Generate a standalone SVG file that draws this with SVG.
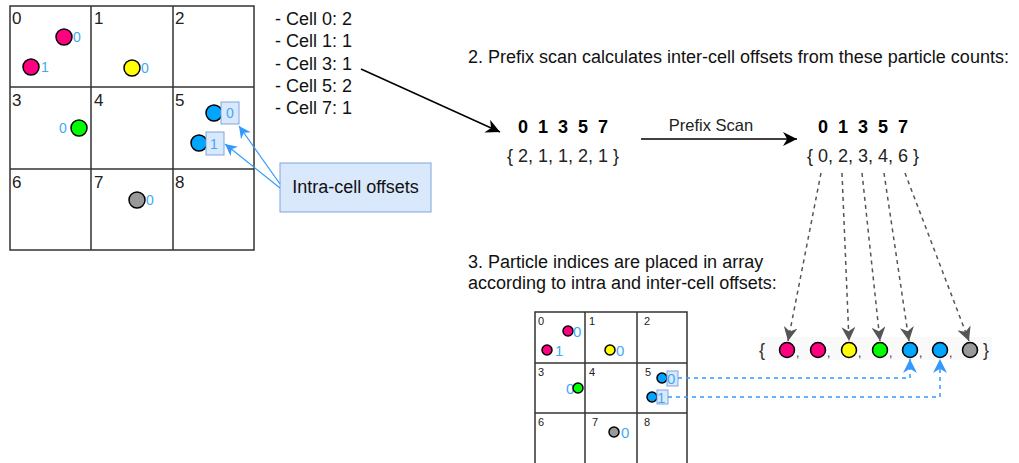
<svg xmlns="http://www.w3.org/2000/svg" width="1019" height="463" viewBox="0 0 1019 463">
<defs>
<style>
text{font-family:"Liberation Sans",Arial,sans-serif}
.grid{fill:none;stroke:#333;stroke-width:1.5}
.lbl{font-size:17px;fill:#222}
.slbl{font-size:11px;fill:#222}
.off{font-size:14px;fill:#3fa9f5}
.soff{font-size:15px;fill:#3fa9f5}
.p{stroke:#000;stroke-width:1.5}
.pk{fill:#ff0080}.yl{fill:#ffff00}.gn{fill:#00ff00}.bl{fill:#00a5ff}.gy{fill:#999}
.ob{fill:#dae8fc;stroke:#7ea6e0;stroke-width:1}
.txt{font-size:18px;fill:#111}
.num{font-size:18px;font-weight:bold;fill:#000}
.br{font-size:18px;fill:#222}
.cm{font-size:12px;fill:#333}
.gd{fill:none;stroke:#555;stroke-width:1.5;stroke-dasharray:4 4;marker-end:url(#ga)}
.bd{fill:none;stroke:#3399ff;stroke-width:1.5;stroke-dasharray:4 4;marker-end:url(#ba)}
.ba{fill:none;stroke:#3399ff;stroke-width:1.2;marker-end:url(#ba2)}
</style>
<marker id="ga" markerUnits="userSpaceOnUse" markerWidth="14" markerHeight="14" refX="10" refY="5" orient="auto" viewBox="0 0 10 10"><path d="M0,0 L10,5 L0,10 L3,5 z" fill="#555"/></marker>
<marker id="ba" markerUnits="userSpaceOnUse" markerWidth="14" markerHeight="14" refX="10" refY="5" orient="auto" viewBox="0 0 10 10"><path d="M0,0 L10,5 L0,10 L3,5 z" fill="#3399ff"/></marker>
<marker id="ba2" markerUnits="userSpaceOnUse" markerWidth="12" markerHeight="12" refX="10" refY="5" orient="auto" viewBox="0 0 10 10"><path d="M0,0 L10,5 L0,10 L3,5 z" fill="#3399ff"/></marker>
<marker id="ka" markerUnits="userSpaceOnUse" markerWidth="14" markerHeight="14" refX="10" refY="5" orient="auto" viewBox="0 0 10 10"><path d="M0,0 L10,5 L0,10 L3,5 z" fill="#000"/></marker>
</defs>

<g id="big-grid">
<rect class="grid" x="10" y="6" width="244" height="244"/>
<line class="grid" x1="91" y1="6" x2="91" y2="250"/>
<line class="grid" x1="173" y1="6" x2="173" y2="250"/>
<line class="grid" x1="10" y1="87" x2="254" y2="87"/>
<line class="grid" x1="10" y1="169" x2="254" y2="169"/>
<text class="lbl" x="12" y="24">0</text>
<text class="lbl" x="94" y="24">1</text>
<text class="lbl" x="175" y="24">2</text>
<text class="lbl" x="12" y="106">3</text>
<text class="lbl" x="94" y="106">4</text>
<text class="lbl" x="175" y="106">5</text>
<text class="lbl" x="12" y="188">6</text>
<text class="lbl" x="94" y="188">7</text>
<text class="lbl" x="175" y="188">8</text>
<circle class="p pk" cx="64" cy="37" r="8"/><text class="off" x="73" y="42">0</text>
<circle class="p pk" cx="31" cy="67" r="8"/><text class="off" x="41" y="72">1</text>
<circle class="p yl" cx="132" cy="68" r="8"/><text class="off" x="141" y="73">0</text>
<circle class="p gn" cx="79" cy="128" r="8"/><text class="off" x="59" y="133">0</text>
<circle class="p bl" cx="214" cy="113" r="8"/>
<rect class="ob" x="221" y="102" width="18" height="22"/><text class="off" x="226" y="118">0</text>
<circle class="p bl" cx="199" cy="143" r="8"/>
<rect class="ob" x="206" y="132" width="18" height="23"/><text class="off" x="210" y="149">1</text>
<circle class="p gy" cx="137" cy="200" r="8"/><text class="off" x="146" y="205">0</text>
</g>

<g id="intra-label">
<rect x="280" y="163" width="151" height="49" fill="#dae8fc" stroke="#7ea6e0"/>
<text class="txt" x="355.5" y="193" text-anchor="middle">Intra-cell offsets</text>
</g>

<g id="counts">
<text class="txt" x="275" y="25">- Cell 0: 2</text>
<text class="txt" x="275" y="47">- Cell 1: 1</text>
<text class="txt" x="275" y="70">- Cell 3: 1</text>
<text class="txt" x="275" y="92">- Cell 5: 2</text>
<text class="txt" x="275" y="114">- Cell 7: 1</text>
</g>

<g id="step2">
<text class="txt" x="468" y="63">2. Prefix scan calculates inter-cell offsets from these particle counts:</text>
</g>

<g id="counts-array">
<text class="num" x="563" y="133" text-anchor="middle" xml:space="preserve">0  1  3  5  7</text>
<text class="br" x="563" y="162" text-anchor="middle">{ 2, 1, 1, 2, 1 }</text>
</g>

<g id="offsets-array">
<text class="num" x="863" y="133" text-anchor="middle" xml:space="preserve">0  1  3  5  7</text>
<text class="br" x="863" y="162" text-anchor="middle">{ 0, 2, 3, 4, 6 }</text>
</g>

<g id="scan-label">
<text x="711" y="131" text-anchor="middle" style="font-size:16.5px;fill:#222">Prefix Scan</text>
</g>

<g id="step3">
<text class="txt" x="468" y="268">3. Particle indices are placed in array</text>
<text class="txt" x="468" y="289">according to intra and inter-cell offsets:</text>
</g>

<g id="small-grid">
<rect class="grid" x="535" y="312" width="152" height="160"/>
<line class="grid" x1="585" y1="312" x2="585" y2="463"/>
<line class="grid" x1="637" y1="312" x2="637" y2="463"/>
<line class="grid" x1="535" y1="363" x2="687" y2="363"/>
<line class="grid" x1="535" y1="413" x2="687" y2="413"/>
<text class="slbl" x="538" y="325">0</text>
<text class="slbl" x="589" y="325">1</text>
<text class="slbl" x="644" y="325">2</text>
<text class="slbl" x="538" y="376">3</text>
<text class="slbl" x="589" y="376">4</text>
<text class="slbl" x="645" y="376">5</text>
<text class="slbl" x="538" y="426">6</text>
<text class="slbl" x="592" y="426">7</text>
<text class="slbl" x="644" y="426">8</text>
<circle class="p pk" cx="568" cy="331" r="5"/><text class="soff" x="573" y="337">0</text>
<circle class="p pk" cx="547" cy="350" r="5"/><text class="soff" x="555" y="356">1</text>
<circle class="p yl" cx="610" cy="350" r="5"/><text class="soff" x="616" y="356">0</text>
<text class="soff" x="566" y="394">0</text><circle class="p gn" cx="578" cy="388" r="5"/>
<circle class="p bl" cx="662" cy="378" r="5"/>
<rect class="ob" x="667" y="371" width="11" height="15"/><text class="soff" x="667" y="384">0</text>
<circle class="p bl" cx="652" cy="397" r="5"/>
<rect class="ob" x="657" y="390" width="11" height="14"/><text class="soff" x="657" y="403">1</text>
<circle class="p gy" cx="614" cy="432" r="5"/><text class="soff" x="621" y="438">0</text>
</g>

<g id="result-array">
<rect x="760" y="337" width="232" height="23" fill="#f9f9f9"/>
<text x="759" y="356" style="font-size:18px;fill:#333">{</text>
<text x="983" y="356" style="font-size:18px;fill:#333">}</text>
<circle class="p pk" cx="787" cy="350" r="7.5"/><text class="cm" x="796" y="357">,</text>
<circle class="p pk" cx="818" cy="350" r="7.5"/><text class="cm" x="827" y="357">,</text>
<circle class="p yl" cx="849" cy="350" r="7.5"/><text class="cm" x="858" y="357">,</text>
<circle class="p gn" cx="880" cy="350" r="7.5"/><text class="cm" x="889" y="357">,</text>
<circle class="p bl" cx="910" cy="350" r="7.5"/><text class="cm" x="919" y="357">,</text>
<circle class="p bl" cx="940" cy="350" r="7.5"/><text class="cm" x="949" y="357">,</text>
<circle class="p gy" cx="970" cy="350" r="7.5"/>
</g>

<g id="connectors">
<line x1="361" y1="69" x2="500" y2="132" stroke="#000" stroke-width="1.5" marker-end="url(#ka)"/>
<line x1="641" y1="139" x2="797" y2="139" stroke="#000" stroke-width="1.5" marker-end="url(#ka)"/>
<line class="ba" x1="280" y1="184" x2="239" y2="126"/>
<line class="ba" x1="280" y1="188" x2="225" y2="144"/>
<path class="gd" d="M821,173 L788,341"/>
<path class="gd" d="M842,173 L849,341"/>
<path class="gd" d="M862,173 L880,341"/>
<path class="gd" d="M884,173 L909,341"/>
<path class="gd" d="M905,173 L969,341"/>
<path class="bd" d="M678,378 L910,378 L910,359"/>
<path class="bd" d="M668,397 L940,397 L940,359"/>
</g>
</svg>
